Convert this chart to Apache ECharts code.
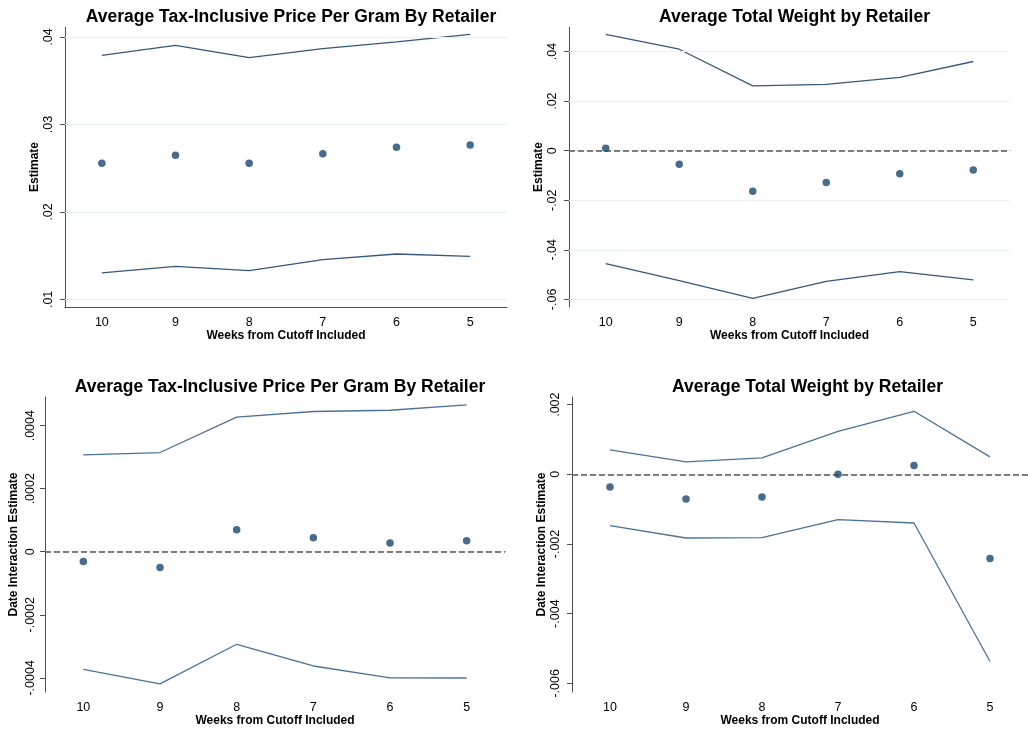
<!DOCTYPE html>
<html>
<head>
<meta charset="utf-8">
<script src="https://cdn.jsdelivr.net/npm/echarts@6/dist/echarts.min.js"></script>
<style>
  html, body { margin: 0; padding: 0; background: #ffffff; }
  #chart { width: 1028px; height: 733px; }
</style>
</head>
<body>
<div id="chart"></div>
<script>
// Weeks from cutoff included (x categories, shown right-to-left from 10 down to 5)
const weeks = ['10', '9', '8', '7', '6', '5'];

// Panel 1: average tax-inclusive price per gram — estimates and 95% bounds
const priceEst   = [0.02556, 0.02647, 0.02556, 0.02666, 0.02739, 0.02765];
const priceUpper = [0.03790, 0.03905, 0.03765, 0.03867, 0.03943, 0.04030];
const priceLower = [0.01302, 0.01377, 0.01328, 0.01454, 0.01519, 0.01491];
const priceTicks = [0.01, 0.02, 0.03, 0.04];

// Panel 2: average total weight — estimates and 95% bounds
const weightEst   = [0.00097, -0.00550, -0.01634, -0.01288, -0.00926, -0.00777];
const weightUpper = [0.04696, 0.04093, 0.02616, 0.02672, 0.02954, 0.03598];
const weightLower = [-0.04559, -0.05243, -0.05956, -0.05272, -0.04881, -0.05215];
const weightTicks = [-0.06, -0.04, -0.02, 0, 0.02, 0.04];

// Panel 3: price per gram, date interaction estimates and bounds
const priceIntEst   = [-0.0000308, -0.0000499, 0.0000700, 0.0000445, 0.0000277, 0.0000350];
const priceIntUpper = [0.0003075, 0.0003148, 0.0004270, 0.0004450, 0.0004490, 0.0004660];
const priceIntLower = [-0.0003730, -0.0004190, -0.0002935, -0.0003625, -0.0004000, -0.0004006];
const priceIntTicks = [-0.0004, -0.0002, 0, 0.0002, 0.0004];

// Panel 4: total weight, date interaction estimates and bounds
const weightIntEst   = [-0.000362, -0.000707, -0.000650, 0.000000, 0.000250, -0.002414];
const weightIntUpper = [0.000701, 0.000356, 0.000471, 0.001236, 0.001810, 0.000500];
const weightIntLower = [-0.001474, -0.001828, -0.001819, -0.001302, -0.001397, -0.005374];
const weightIntTicks = [-0.006, -0.004, -0.002, 0, 0.002];

const titlePrice  = 'Average Tax-Inclusive Price Per Gram By Retailer';
const titleWeight = 'Average Total Weight by Retailer';
const xTitle = 'Weeks from Cutoff Included';

const FONT = '"Liberation Sans", Arial, Helvetica, sans-serif';
const markerColor = '#1a476f';
const axisColor = '#4d4d4d';
const gridColor = '#e9f0f2';

// Stata-style tick label: drop the leading zero (".04", "-.002")
function stataNum(v) {
  if (Math.abs(v) < 1e-12) return '0';
  let s = String(+v.toPrecision(6));
  return s.replace(/^(-?)0\./, '$1.');
}

const panels = [
  { rect: { left: 65,  top: 27,  width: 442, height: 280 }, title: titlePrice,  yName: 'Estimate',
    ymin: 0.00913, ymax: 0.04114, ticks: priceTicks, est: priceEst, up: priceUpper, lo: priceLower,
    zero: false, lineColor: '#34587c', labelMargin: 10, nameGap: 23 },
  { rect: { left: 569, top: 27,  width: 441, height: 280 }, title: titleWeight, yName: 'Estimate',
    ymin: -0.06306, ymax: 0.0499, ticks: weightTicks, est: weightEst, up: weightUpper, lo: weightLower,
    zero: true, lineColor: '#34587c', labelMargin: 10, nameGap: 22 },
  { rect: { left: 45,  top: 397, width: 460, height: 295 }, title: titlePrice,  yName: 'Date Interaction Estimate',
    ymin: -0.000445, ymax: 0.000491, ticks: priceIntTicks, est: priceIntEst, up: priceIntUpper, lo: priceIntLower,
    zero: true, lineColor: '#4a7397', labelMargin: 8, nameGap: 25 },
  { rect: { left: 572, top: 397, width: 461, height: 295 }, title: titleWeight, yName: 'Date Interaction Estimate',
    ymin: -0.00625, ymax: 0.00222, ticks: weightIntTicks, est: weightIntEst, up: weightIntUpper, lo: weightIntLower,
    zero: true, lineColor: '#4a7397', labelMargin: 10, nameGap: 24 }
];

const grid = [], xAxis = [], yAxis = [], series = [], title = [];

panels.forEach((p, i) => {
  grid.push(Object.assign({ containLabel: false }, p.rect));

  title.push({
    text: p.title,
    left: p.rect.left + p.rect.width / 2,
    top: p.rect.top - 24,
    textAlign: 'center',
    textStyle: { fontFamily: FONT, fontWeight: 'bold', fontSize: 17.5, color: '#000' }
  });

  xAxis.push({
    type: 'category', gridIndex: i, data: weeks, boundaryGap: true,
    name: xTitle, nameLocation: 'middle', nameGap: 23,
    nameTextStyle: { fontFamily: FONT, fontWeight: 'bold', fontSize: 12, color: '#000' },
    axisLine: { lineStyle: { color: axisColor, width: 1 } },
    axisTick: { alignWithLabel: true, length: 5, lineStyle: { color: axisColor } },
    axisLabel: { fontFamily: FONT, fontSize: 12.5, color: '#000', margin: 9 },
    splitLine: { show: false }
  });

  yAxis.push({
    type: 'value', gridIndex: i, min: p.ymin, max: p.ymax,
    name: p.yName, nameLocation: 'middle', nameRotate: 90, nameGap: p.nameGap,
    nameTextStyle: { fontFamily: FONT, fontWeight: 'bold', fontSize: 12, color: '#000' },
    axisLine: { show: true, lineStyle: { color: axisColor, width: 1 } },
    axisTick: { show: true, length: 5, customValues: p.ticks, lineStyle: { color: axisColor } },
    axisLabel: {
      fontFamily: FONT, fontSize: 12.5, color: '#000', rotate: 90, margin: p.labelMargin,
      customValues: p.ticks, formatter: stataNum
    },
    splitLine: { show: false }
  });

  // faint horizontal gridlines at the labelled ticks
  series.push({
    type: 'line', xAxisIndex: i, yAxisIndex: i, data: [], silent: true,
    markLine: {
      silent: true, symbol: 'none', animation: false, label: { show: false },
      lineStyle: { color: gridColor, width: 1, type: 'solid' },
      data: p.ticks.map(v => ({ yAxis: v }))
    }
  });

  if (p.zero) {
    series.push({
      type: 'line', xAxisIndex: i, yAxisIndex: i, data: [], silent: true, z: 3,
      markLine: {
        silent: true, symbol: 'none', animation: false, label: { show: false },
        lineStyle: { color: '#555555', width: 1.6, type: [6, 3] },
        data: [{ yAxis: 0 }]
      }
    });
  }

  [p.up, p.lo].forEach(arr => {
    series.push({
      type: 'line', xAxisIndex: i, yAxisIndex: i, data: arr, showSymbol: false,
      symbol: 'none', animation: false, silent: true, z: 4,
      lineStyle: { color: p.lineColor, width: 1.3 }
    });
  });

  series.push({
    type: 'scatter', xAxisIndex: i, yAxisIndex: i, data: p.est, symbol: 'circle',
    symbolSize: 7.5, animation: false, z: 5,
    itemStyle: { color: markerColor }
  });
});

const chart = echarts.init(document.getElementById('chart'), null, { renderer: 'canvas' });
chart.setOption({
  backgroundColor: '#ffffff',
  animation: false,
  title, grid, xAxis, yAxis, series
});
</script>
</body>
</html>
